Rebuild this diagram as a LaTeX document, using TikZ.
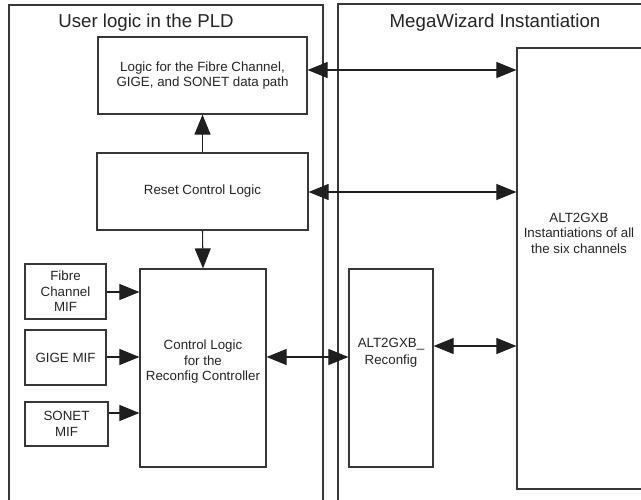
\documentclass[tikz,border=0pt]{standalone}
\usepackage{fontspec}
\setmainfont{Liberation Sans}
\usetikzlibrary{arrows.meta}
\begin{document}
\begin{tikzpicture}[x=0.75pt,y=-0.75pt,
  box/.style={draw=black!78, line width=0.9pt, rectangle, inner sep=0pt, align=center,
    text=black!85, font=\fontsize{10}{11.6}\selectfont},
  title/.style={text=black!85, font=\fontsize{14}{16}\selectfont, inner sep=0pt},
  lbl/.style={text=black!85, font=\fontsize{10}{11.6}\selectfont, align=center, inner sep=0pt},
  arr/.style={draw=black!88, line width=0.8pt, -{Triangle[length=15pt,width=12pt]}},
  arrr/.style={draw=black!88, line width=0.8pt, {Triangle[length=15pt,width=12pt]}-{Triangle[length=15pt,width=12pt]}}]
\clip (0,0) rectangle (641,499);
\fill[white] (0,0) rectangle (641,499);
% containers
\draw[black!78, line width=0.9pt] (9,520) -- (9,5) -- (323,5) -- (323,520);
\draw[black!78, line width=0.9pt] (338,520) -- (338,4) -- (660,4);
\node[title] (tL) at (146,23) {User logic in the PLD};
\node[title] (tR) at (495,23) {MegaWizard Instantiation};
% boxes
\node[box, minimum width=209*0.75pt, minimum height=77*0.75pt] (logic) at (202.5,75.5)
  {Logic for the Fibre Channel,\\GIGE, and SONET data path};
\node[box, minimum width=211*0.75pt, minimum height=77*0.75pt] (reset) at (202.5,191.5)
  {Reset Control Logic};
\node[box, minimum width=126*0.75pt, minimum height=198*0.75pt] (ctrl) at (203,368) {};
\node[lbl] (ctrlt) at (203,362) {Control Logic\\for the\\Reconfig Controller};
\node[box, minimum width=81*0.75pt, minimum height=55*0.75pt] (fc) at (65.5,291.5)
  {Fibre\\Channel\\MIF};
\node[box, minimum width=81*0.75pt, minimum height=55*0.75pt] (gige) at (65.5,357.5)
  {GIGE MIF};
\node[box, minimum width=83*0.75pt, minimum height=44*0.75pt] (sonet) at (66.5,424)
  {SONET\\MIF};
\node[box, minimum width=84*0.75pt, minimum height=198*0.75pt] (reconf) at (391,368) {};
\node[lbl, font=\fontsize{10}{12.5}\selectfont] (reconft) at (391,353) {ALT2GXB\_\\Reconfig};
\node[box, minimum width=126*0.75pt, minimum height=441*0.75pt] (alt) at (580,268.5) {};
\node[lbl] (altt) at (579,233) {ALT2GXB\\Instantiations of all\\the six channels};
% connectors
\draw[arr] (reset.north) -- (logic.south);
\draw[arr] (reset.south) -- (ctrl.north);
\draw[arrr] (logic.east |- 0,70) -- (alt.west |- 0,70);
\draw[arrr] (reset.east |- 0,192) -- (alt.west |- 0,192);
\draw[arrr] (ctrl.east |- 0,357) -- (reconf.west |- 0,357);
\draw[arrr] (reconf.east |- 0,346) -- (alt.west |- 0,346);
\draw[arr] (fc.east |- 0,292) -- (ctrl.west |- 0,292);
\draw[arr] (gige.east |- 0,357) -- (ctrl.west |- 0,357);
\draw[arr] (sonet.east |- 0,413) -- (ctrl.west |- 0,413);
\end{tikzpicture}
\end{document}
